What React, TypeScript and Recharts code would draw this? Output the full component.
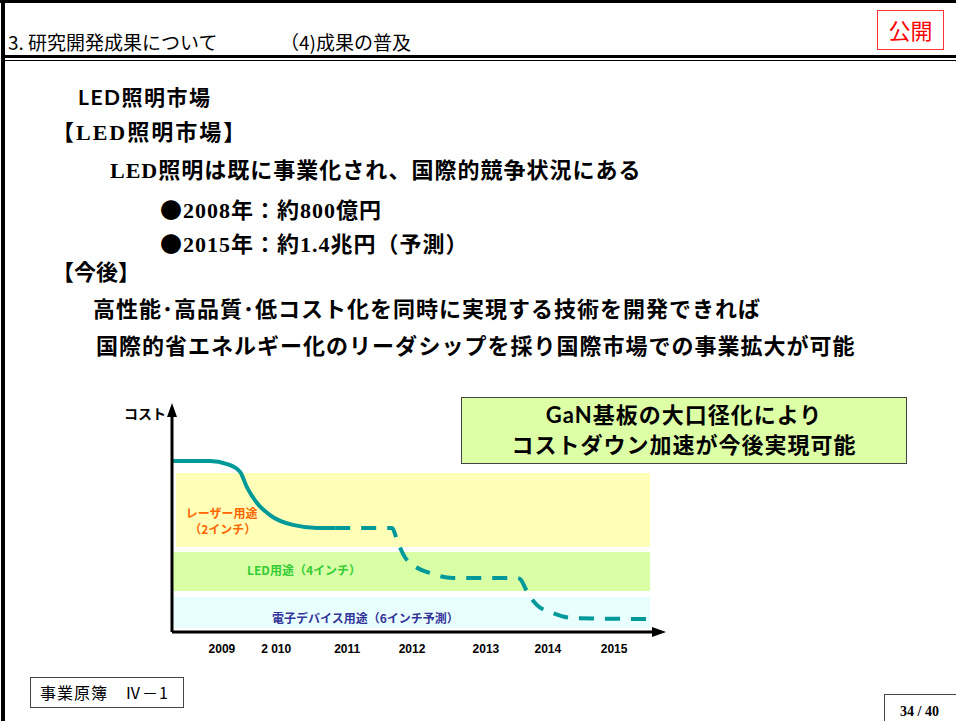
import React from "react";
import { LineChart, Line, XAxis, YAxis, ReferenceArea } from "recharts";

// 横軸の目盛り位置（0〜100 の相対時間）とラベル
const yearTicks = [10.4, 21.7, 36.5, 50.0, 65.4, 78.3, 92.1];
const yearLabels = ["2009", "2 010", "2011", "2012", "2013", "2014", "2015"];

// コスト曲線：実線部分
const solidX = [0, 7.9, 11.5, 14.2, 15.6, 17.7, 20.4, 25.2, 30.2, 34.0];
const solidY = [79.5, 79.5, 78.1, 74.4, 67.4, 60.0, 54.4, 49.8, 48.4, 48.4];

// コスト曲線：破線部分（予測）
const dashX = [34.0, 45.8, 47.1, 48.5, 50.2, 53.8, 58.5, 71.9, 72.5, 74.0, 76.0, 79.4, 83.5, 99.6];
const dashY = [48.4, 48.4, 41.4, 34.9, 31.2, 27.4, 25.1, 25.1, 24.7, 18.6, 12.6, 8.8, 6.5, 6.0];

// 用途の帯
const bandNames = ["レーザー用途", "LED用途（4インチ）", "電子デバイス用途（6インチ予測）"];
const bandNotes = ["（2インチ）", "", ""];
const bandFrom = [0.8, 0, 0];
const bandTo = [99.6, 99.6, 99.6];
const bandLow = [39.5, 19.1, 1.9];
const bandHigh = [74.0, 37.2, 16.3];

const bandFill = ["#FFFFB8", "#D9FFA6", "#E9FFFF"];
const bandText = ["#FF6600", "#33CC33", "#333399"];
const teal = "#009999";

const solidData = solidX.map((x, i) => ({ x, y: solidY[i] }));
const dashData = dashX.map((x, i) => ({ x, y: dashY[i] }));

const jp = '"Noto Sans CJK JP", sans-serif';
const serifJp = '"Liberation Serif", "Noto Sans CJK JP", serif';

function T({ x, y, size, children, style }: any) {
  return (
    <div
      style={{
        position: "absolute",
        left: x,
        top: y - size * 0.7,
        fontSize: size,
        lineHeight: `${size * 1.4}px`,
        whiteSpace: "nowrap",
        ...style,
      }}
    >
      {children}
    </div>
  );
}

const dot = <span style={{ fontFamily: jp }}>●</span>;

function BandLabel(props: any) {
  const { viewBox, idx } = props;
  const { x, y } = viewBox;
  const common = {
    fontSize: 12,
    fontWeight: 700,
    fontFamily: jp,
    fill: bandText[idx],
    dominantBaseline: "central" as const,
  };
  if (idx === 0) {
    return (
      <g>
        <text x={x + 10} y={y + 40} {...common}>
          {bandNames[0]}
        </text>
        <text x={x + 47} y={y + 56} textAnchor="middle" {...common}>
          {bandNotes[0]}
        </text>
      </g>
    );
  }
  const dx = idx === 1 ? 75 : 100;
  const dy = idx === 1 ? 17 : 21;
  return (
    <text x={x + dx} y={y + dy} {...common}>
      {bandNames[idx]}
    </text>
  );
}

function CostLabel(props: any) {
  const { x, y, width } = props.viewBox;
  return (
    <text
      x={x + width - 6}
      y={y - 4}
      textAnchor="end"
      dominantBaseline="central"
      fontSize={14}
      fontWeight={700}
      fontFamily={jp}
      fill="#000"
    >
      コスト
    </text>
  );
}

function CostChart() {
  return (
    <LineChart
      width={580}
      height={280}
      margin={{ top: 27, right: 28, bottom: 8, left: 12 }}
      style={{ position: "absolute", left: 100, top: 390 }}
    >
      {bandNames.map((n, i) => (
        <ReferenceArea
          key={n}
          x1={bandFrom[i]}
          x2={bandTo[i]}
          y1={bandLow[i]}
          y2={bandHigh[i]}
          fill={bandFill[i]}
          fillOpacity={1}
          stroke="none"
          label={<BandLabel idx={i} />}
        />
      ))}
      <XAxis
        type="number"
        dataKey="x"
        domain={[0, 100]}
        ticks={yearTicks}
        interval={0}
        tickFormatter={(v: number) => yearLabels[yearTicks.indexOf(v)]}
        height={30}
        tickLine={false}
        tickSize={6}
        tickMargin={6}
        tick={{ fontSize: 12, fontWeight: 700, fill: "#000", fontFamily: '"Liberation Sans", Arial, sans-serif' }}
        axisLine={{ stroke: "#000", strokeWidth: 3, markerEnd: "url(#arrowHead)" }}
      />
      <YAxis
        type="number"
        domain={[0, 100]}
        width={60}
        tick={false}
        tickLine={false}
        axisLine={{ stroke: "#000", strokeWidth: 3, markerStart: "url(#arrowHead)" }}
        label={CostLabel}
      />
      <Line
        data={solidData}
        dataKey="y"
        type="monotone"
        stroke={teal}
        strokeWidth={4}
        dot={false}
        activeDot={false}
        isAnimationActive={false}
      />
      <Line
        data={dashData}
        dataKey="y"
        type="monotone"
        stroke={teal}
        strokeWidth={4}
        strokeDasharray="15 11"
        dot={false}
        activeDot={false}
        isAnimationActive={false}
      />
    </LineChart>
  );
}

export default function App() {
  return (
    <div
      style={{
        position: "absolute",
        left: 0,
        top: 0,
        width: 956,
        height: 721,
        background: "#fff",
        overflow: "hidden",
        fontFamily: jp,
        color: "#000",
      }}
    >
      <svg width="0" height="0" style={{ position: "absolute" }}>
        <defs>
          <marker
            id="arrowHead"
            viewBox="0 0 14 10"
            refX="0"
            refY="5"
            markerWidth={14 / 3}
            markerHeight={10 / 3}
            orient="auto-start-reverse"
          >
            <path d="M0,0 L14,5 L0,10 z" fill="#000" />
          </marker>
        </defs>
      </svg>

      {/* 枠線 */}
      <div style={{ position: "absolute", left: 0, top: 0, width: 956, height: 3, background: "#000" }} />
      <div style={{ position: "absolute", left: 1, top: 0, width: 4, height: 721, background: "#000" }} />
      <div style={{ position: "absolute", left: 5, top: 55, width: 951, height: 3, background: "#000" }} />
      <div style={{ position: "absolute", left: 5, top: 60, width: 951, height: 1, background: "#000" }} />

      {/* ヘッダー */}
      <T x={8} y={42} size={19}>3. 研究開発成果について</T>
      <T x={280} y={42} size={19}>（4)成果の普及</T>
      <div
        style={{
          position: "absolute",
          left: 877,
          top: 10,
          width: 67,
          height: 40,
          boxSizing: "border-box",
          border: "1.5px solid #FF3333",
          color: "#FF0000",
          fontSize: 22,
          lineHeight: "37px",
          textAlign: "center",
        }}
      >
        公開
      </div>

      {/* 本文 */}
      <T x={78} y={97} size={21} style={{ fontWeight: 700, fontFamily: '"Lato", "Noto Sans CJK JP", sans-serif', letterSpacing: 1.5 }}>
        LED照明市場
      </T>
      <T x={52} y={133} size={22} style={{ fontWeight: 700, fontFamily: serifJp, letterSpacing: 2 }}>
        【LED照明市場】
      </T>
      <T x={110} y={171} size={22} style={{ fontWeight: 700, fontFamily: serifJp, letterSpacing: 1 }}>
        LED照明は既に事業化され、国際的競争状況にある
      </T>
      <T x={160} y={208} size={22} style={{ fontWeight: 700, fontFamily: serifJp, letterSpacing: 1 }}>
        {dot}2008年：約800億円
      </T>
      <T x={160} y={242} size={22} style={{ fontWeight: 700, fontFamily: serifJp, letterSpacing: 1 }}>
        {dot}2015年：約1.4兆円（予測）
      </T>
      <T x={52} y={273} size={22} style={{ fontWeight: 700, fontFamily: serifJp }}>
        【今後】
      </T>
      <T x={93} y={307} size={22} style={{ fontWeight: 700, letterSpacing: 1 }}>
        高性能･高品質･低コスト化を同時に実現する技術を開発できれば
      </T>
      <T x={96} y={344} size={22} style={{ fontWeight: 700, letterSpacing: 1 }}>
        国際的省エネルギー化のリーダシップを採り国際市場での事業拡大が可能
      </T>

      {/* 注記ボックス */}
      <div
        style={{
          position: "absolute",
          left: 461,
          top: 397,
          width: 446,
          height: 67,
          boxSizing: "border-box",
          border: "1.5px solid #444",
          background: "#DDFFA6",
          textAlign: "center",
          fontWeight: 700,
          fontSize: 22,
          lineHeight: "30px",
          paddingTop: 2,
          letterSpacing: 1,
          fontFamily: '"Lato", "Noto Sans CJK JP", sans-serif',
        }}
      >
        GaN基板の大口径化により
        <br />
        コストダウン加速が今後実現可能
      </div>

      <CostChart />

      {/* フッター */}
      <div
        style={{
          position: "absolute",
          left: 30,
          top: 677,
          width: 154,
          height: 31,
          boxSizing: "border-box",
          border: "1px solid #444",
          fontSize: 16,
          lineHeight: "29px",
          paddingLeft: 9,
          whiteSpace: "nowrap",
          letterSpacing: 1,
        }}
      >
        事業原簿　Ⅳ－1
      </div>
      <div
        style={{
          position: "absolute",
          left: 884,
          top: 694,
          width: 80,
          height: 40,
          boxSizing: "border-box",
          border: "1px solid #444",
          fontSize: 14,
          fontWeight: 700,
          fontFamily: serifJp,
          lineHeight: "34px",
          paddingLeft: 15,
          whiteSpace: "nowrap",
        }}
      >
        34 / 40
      </div>
    </div>
  );
}
